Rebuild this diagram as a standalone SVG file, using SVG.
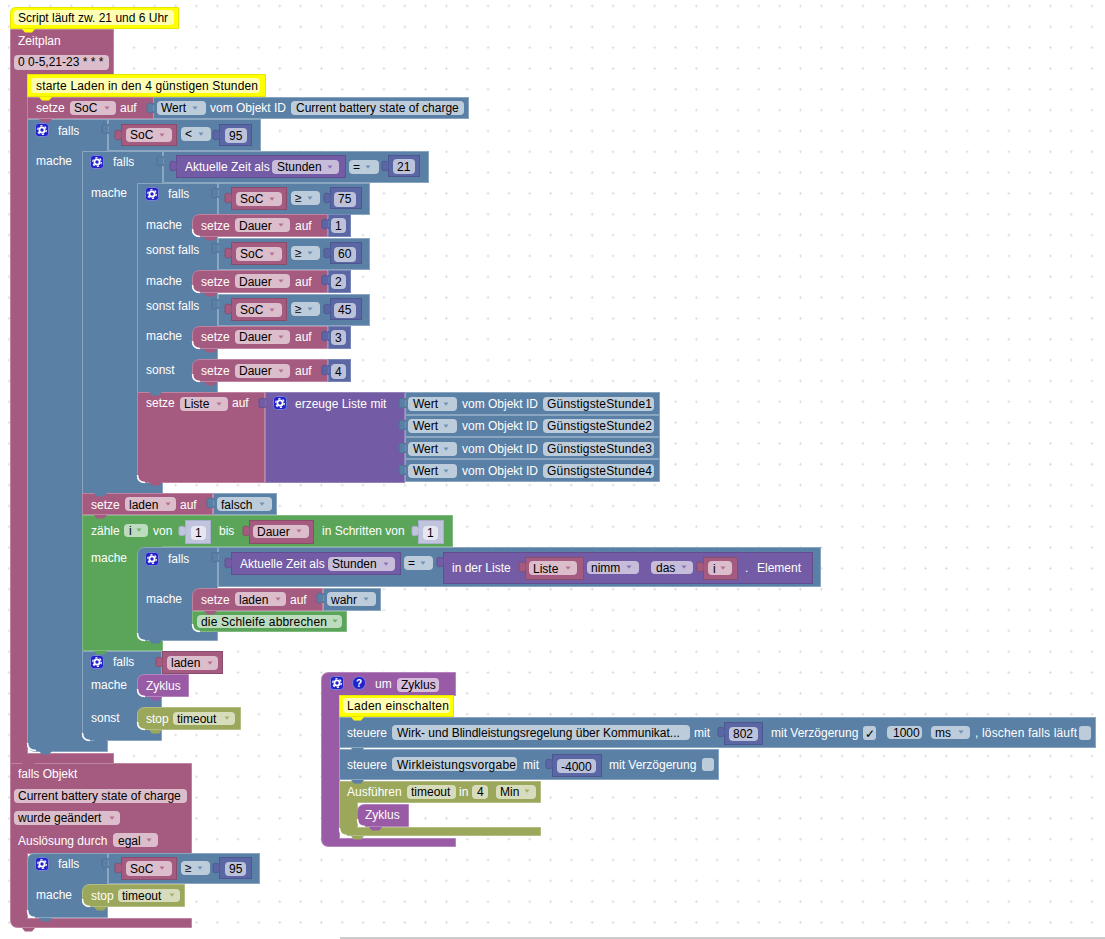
<svg xmlns="http://www.w3.org/2000/svg" width="1105" height="939" viewBox="0 0 1105 939">
<style>
text{font-family:"Liberation Sans",Arial,sans-serif;font-size:12px}
.w{fill:#fff}.k{fill:#000}
.mr{fill:#a55b80;stroke:#bd83a0}.bl{fill:#5b80a5;stroke:#8aa6c1}.pu{fill:#745ba5;stroke:#9483b8}
.nu{fill:#5b67a5;stroke:#4c5792}.nl{fill:#5b67a5;stroke:#7a85b8}.gr{fill:#5ba55b;stroke:#7fb97f}.ol{fill:#9ba75b;stroke:#b3bc82}.pr{fill:#995ba5;stroke:#b583bd}
.mi{fill:#a55b80;stroke:#8a4c6b}.pi{fill:#745ba5;stroke:#624e8e}.li{fill:#c0c4dd;stroke:#a9aecd}
.ye{fill:#ff0;stroke:#e6e600}
.f{fill:#fff;fill-opacity:.6}.fc{fill:#ffffb3}.fn{fill:#fff;fill-opacity:.6}
.am{fill:#b5708f}.ab{fill:#6f92b3}.ap{fill:#8a72b5}.ag{fill:#6db36d}.ao{fill:#a5b06a}
.tm{fill:#a55b80;stroke:#8a4c6b}.tb{fill:#5b80a5;stroke:#4d7096}.tn{fill:#5b67a5;stroke:#4c5792}.tp{fill:#745ba5;stroke:#624e8e}.tl{fill:#c0c4dd;stroke:#a9aecd}
.nm{fill:#a55b80}.nb{fill:#5b80a5}.ng{fill:#5ba55b}.no{fill:#9ba75b}.np{fill:#995ba5}.ny{fill:#ff0}
.hl{fill:none;stroke:#fff;stroke-width:1.5}
</style>
<defs>
<pattern id="dots" x="7.500" y="4.500" width="20.83" height="20.83" patternUnits="userSpaceOnUse">
<path d="M0 1.500H3M1.500 0V3" stroke="#e0e0e0" stroke-width="1" fill="none"/>
</pattern>
<polygon id="dd" points="-2.500,-1.500 2.500,-1.500 0,1.800"/>
<path id="tab" d="M.5 0V1.500C-2 0-6-.5-6 2V8C-6 10.500-2 10 .5 8.500V10"/>
<path id="nt" d="M0 0L3 3.500H10L13 0Z"/>
<g id="gear">
<rect x=".5" y=".5" width="13" height="13" rx="3" fill="#2222cc" stroke="#7a80d8"/>
<circle cx="7" cy="7" r="2.600" fill="none" stroke="#fff" stroke-width="1.800"/>
<circle cx="7" cy="7" r="4.300" fill="none" stroke="#fff" stroke-width="1.300" stroke-dasharray="2.200 2.300"/>
</g>
</defs>

<g id="workspace">
<rect width="1105" height="939" fill="#fff"/>
<rect width="1105" height="939" fill="url(#dots)"/>
<rect x="340" y="937" width="765" height="2" fill="#ccc"/>
</g>

<g id="schedule">
<path class="mr" d="M10.500 29.500H113.500V74.500H27.500V753.500H113.500V763.500H10.500Z"/>
<text class="w" x="18" y="45">Zeitplan</text>
<rect class="f" x="14" y="55" width="95" height="15" rx="4"/>
<text class="k" x="18" y="66">0 0-5,21-23 * * *</text>
</g>

<g id="comment-script">
<path class="ye" d="M16 7.500H178.500V28.500H10.500V13Q10.500 7.500 16 7.500Z"/>
<rect class="fc" x="14" y="10" width="160" height="15" rx="4"/>
<text class="k" x="18" y="22">Script läuft zw. 21 und 6 Uhr</text>
</g>

<g id="comment-charge">
<rect class="ye" x="27.500" y="74.500" width="238" height="22"/>
<rect class="fc" x="31" y="78" width="229" height="15" rx="4"/>
<text class="k" x="36" y="90" textLength="222">starte Laden in den 4 günstigen Stunden</text>
</g>

<g id="set-soc">
<rect class="mr" x="27.500" y="97.500" width="126" height="21"/>
<text class="w" x="36" y="112">setze</text>
<rect class="f" x="70" y="101" width="46" height="14" rx="4"/>
<text class="k" x="74" y="112">SoC</text><use href="#dd" x="107" y="108" class="am"/>
<text class="w" x="120" y="112">auf</text>
</g>
<g id="value-soc">
<rect class="bl" x="153.500" y="97.500" width="315" height="21"/>
<rect class="f" x="157" y="101" width="49" height="14" rx="4"/>
<text class="k" x="161" y="112">Wert</text><use href="#dd" x="195" y="108" class="ab"/>
<text class="w" x="210" y="112">vom Objekt ID</text>
<rect class="f" x="291" y="101" width="173" height="14" rx="4"/>
<text class="k" x="296" y="112">Current battery state of charge</text>
</g>

<g id="if-soc-95">
<path class="bl" d="M27.500 119.500H107.500V751.500H36Q27.500 751.500 27.500 743Z"/>
<use href="#gear" x="35" y="123"/>
<text class="w" x="58" y="135">falls</text>
<text class="w" x="36" y="165">mache</text>
<path class="hl" d="M27.500 743Q27.500 750.500 36 750.500"/>
</g>
<g id="cmp-soc-95">
<rect class="bl" x="108.500" y="119.500" width="152" height="31"/>
<rect class="mi" x="121.500" y="124.500" width="55" height="21"/>
<rect class="f" x="126" y="128" width="46" height="14" rx="4"/>
<text class="k" x="130" y="139">SoC</text><use href="#dd" x="162" y="135" class="am"/>
<rect class="f" x="181" y="127" width="30" height="14" rx="4"/>
<text class="k" x="185" y="138">&lt;</text><use href="#dd" x="201" y="134" class="ab"/>
<rect class="nu" x="219.500" y="124.500" width="32" height="21"/>
<rect class="f" x="225" y="128" width="22" height="15" rx="4"/>
<text class="k" x="229" y="140">95</text>
</g>

<g id="if-hour-21">
<path class="bl" d="M82.500 151.500H162.500V493.500H82.500Z"/>
<use href="#gear" x="90" y="155"/>
<text class="w" x="113" y="166">falls</text>
<text class="w" x="91" y="197">mache</text>
</g>
<g id="cmp-hour-21">
<rect class="bl" x="163.500" y="151.500" width="265" height="31"/>
<rect class="pi" x="176.500" y="155.500" width="169" height="22"/>
<text class="w" x="185" y="171">Aktuelle Zeit als</text>
<rect class="f" x="272" y="160" width="67" height="14" rx="4"/>
<text class="k" x="277" y="171">Stunden</text><use href="#dd" x="330" y="167" class="ap"/>
<rect class="f" x="349" y="160" width="30" height="14" rx="4"/>
<text class="k" x="353" y="171">=</text><use href="#dd" x="368" y="167" class="ab"/>
<rect class="nu" x="388.500" y="155.500" width="31" height="21"/>
<rect class="f" x="393" y="159" width="22" height="15" rx="4"/>
<text class="k" x="397" y="171">21</text>
</g>

<g id="if-soc-steps">
<path class="bl" d="M137.500 183.500H217.500V392.500H137.500Z"/>
<use href="#gear" x="145" y="187"/>
<text class="w" x="168" y="198">falls</text>
<text class="w" x="146" y="229">mache</text>
<text class="w" x="146" y="254">sonst falls</text>
<text class="w" x="146" y="285">mache</text>
<text class="w" x="146" y="310">sonst falls</text>
<text class="w" x="146" y="340">mache</text>
<text class="w" x="146" y="374">sonst</text>
</g>
<g id="cmp-soc-75">
<rect class="bl" x="218.500" y="183.500" width="151" height="31"/>
<rect class="mi" x="231.500" y="187.500" width="55" height="22"/>
<rect class="f" x="236" y="192" width="46" height="14" rx="4"/>
<text class="k" x="240" y="203">SoC</text><use href="#dd" x="272" y="199" class="am"/>
<rect class="f" x="291" y="191" width="29" height="14" rx="4"/>
<text class="k" x="295" y="202">≥</text><use href="#dd" x="310" y="198" class="ab"/>
<rect class="nu" x="330.500" y="187.500" width="31" height="21"/>
<rect class="f" x="334" y="192" width="22" height="15" rx="4"/>
<text class="k" x="338" y="203">75</text>
</g>
<g id="cmp-soc-60">
<rect class="bl" x="218.500" y="238.500" width="151" height="31"/>
<rect class="mi" x="231.500" y="242.500" width="55" height="22"/>
<rect class="f" x="236" y="247" width="46" height="14" rx="4"/>
<text class="k" x="240" y="258">SoC</text><use href="#dd" x="272" y="254" class="am"/>
<rect class="f" x="291" y="246" width="29" height="14" rx="4"/>
<text class="k" x="295" y="257">≥</text><use href="#dd" x="310" y="253" class="ab"/>
<rect class="nu" x="330.500" y="242.500" width="31" height="21"/>
<rect class="f" x="334" y="247" width="22" height="15" rx="4"/>
<text class="k" x="338" y="258">60</text>
</g>
<g id="cmp-soc-45">
<rect class="bl" x="218.500" y="294.500" width="151" height="31"/>
<rect class="mi" x="231.500" y="298.500" width="55" height="22"/>
<rect class="f" x="236" y="303" width="46" height="14" rx="4"/>
<text class="k" x="240" y="314">SoC</text><use href="#dd" x="272" y="310" class="am"/>
<rect class="f" x="291" y="302" width="29" height="14" rx="4"/>
<text class="k" x="295" y="313">≥</text><use href="#dd" x="310" y="309" class="ab"/>
<rect class="nu" x="330.500" y="298.500" width="31" height="21"/>
<rect class="f" x="334" y="303" width="22" height="15" rx="4"/>
<text class="k" x="338" y="314">45</text>
</g>

<g id="set-dauer-1">
<path class="mr" d="M200 214.500H327.500V236.500H200Q192.500 236.500 192.500 229V222Q192.500 214.500 200 214.500Z"/>
<path class="hl" d="M192.500 229Q192.500 236.500 200 236.500"/>
<text class="w" x="201" y="230">setze</text>
<rect class="f" x="235" y="218" width="55" height="14" rx="4"/>
<text class="k" x="239" y="230">Dauer</text><use href="#dd" x="281" y="225" class="am"/>
<text class="w" x="295" y="230">auf</text>
<rect class="nl" x="328.500" y="214.500" width="22" height="22"/>
<rect class="f" x="331" y="218" width="15" height="15" rx="4"/>
<text class="k" x="335" y="230">1</text>
</g>
<g id="set-dauer-2">
<path class="mr" d="M200 270.500H327.500V292.500H200Q192.500 292.500 192.500 285V278Q192.500 270.500 200 270.500Z"/>
<path class="hl" d="M192.500 285Q192.500 292.500 200 292.500"/>
<text class="w" x="201" y="286">setze</text>
<rect class="f" x="235" y="274" width="55" height="14" rx="4"/>
<text class="k" x="239" y="286">Dauer</text><use href="#dd" x="281" y="281" class="am"/>
<text class="w" x="295" y="286">auf</text>
<rect class="nl" x="328.500" y="270.500" width="22" height="22"/>
<rect class="f" x="331" y="274" width="15" height="15" rx="4"/>
<text class="k" x="335" y="286">2</text>
</g>
<g id="set-dauer-3">
<path class="mr" d="M200 326.500H327.500V348.500H200Q192.500 348.500 192.500 341V334Q192.500 326.500 200 326.500Z"/>
<path class="hl" d="M192.500 341Q192.500 348.500 200 348.500"/>
<text class="w" x="201" y="341">setze</text>
<rect class="f" x="235" y="330" width="55" height="14" rx="4"/>
<text class="k" x="239" y="341">Dauer</text><use href="#dd" x="281" y="337" class="am"/>
<text class="w" x="295" y="341">auf</text>
<rect class="nl" x="328.500" y="326.500" width="22" height="22"/>
<rect class="f" x="331" y="330" width="15" height="15" rx="4"/>
<text class="k" x="335" y="342">3</text>
</g>
<g id="set-dauer-4">
<path class="mr" d="M200 359.500H327.500V381.500H200Q192.500 381.500 192.500 374V367Q192.500 359.500 200 359.500Z"/>
<path class="hl" d="M192.500 374Q192.500 381.500 200 381.500"/>
<text class="w" x="201" y="375">setze</text>
<rect class="f" x="235" y="364" width="55" height="14" rx="4"/>
<text class="k" x="239" y="375">Dauer</text><use href="#dd" x="281" y="371" class="am"/>
<text class="w" x="295" y="375">auf</text>
<rect class="nl" x="328.500" y="359.500" width="22" height="22"/>
<rect class="f" x="331" y="364" width="15" height="15" rx="4"/>
<text class="k" x="335" y="376">4</text>
</g>

<g id="set-liste">
<path class="mr" d="M137.500 392.500H264.500V482.500H145Q137.500 482.500 137.500 475Z"/>
<path class="hl" d="M137.500 475Q137.500 482.500 145 482.500"/>
<text class="w" x="146" y="407">setze</text>
<rect class="f" x="180" y="397" width="48" height="14" rx="4"/>
<text class="k" x="184" y="408">Liste</text><use href="#dd" x="219" y="404" class="am"/>
<text class="w" x="232" y="407">auf</text>
</g>
<g id="list-create">
<rect class="pu" x="265.500" y="392.500" width="139" height="90"/>
<use href="#gear" x="273" y="396"/>
<text class="w" x="295" y="408">erzeuge Liste mit</text>
</g>
<g id="value-hour-1">
<rect class="bl" x="405.500" y="392.500" width="254" height="22"/>
<rect class="f" x="408" y="397" width="49" height="14" rx="4"/>
<text class="k" x="413" y="408">Wert</text><use href="#dd" x="446" y="404" class="ab"/>
<text class="w" x="462" y="408">vom Objekt ID</text>
<rect class="f" x="543" y="397" width="111" height="14" rx="4"/>
<text class="k" x="547" y="408" textLength="105">GünstigsteStunde1</text>
</g>
<g id="value-hour-2">
<rect class="bl" x="405.500" y="415.500" width="254" height="21"/>
<rect class="f" x="408" y="419" width="49" height="14" rx="4"/>
<text class="k" x="413" y="430">Wert</text><use href="#dd" x="446" y="426" class="ab"/>
<text class="w" x="462" y="430">vom Objekt ID</text>
<rect class="f" x="543" y="419" width="111" height="14" rx="4"/>
<text class="k" x="547" y="430" textLength="105">GünstigsteStunde2</text>
</g>
<g id="value-hour-3">
<rect class="bl" x="405.500" y="437.500" width="254" height="21"/>
<rect class="f" x="408" y="442" width="49" height="14" rx="4"/>
<text class="k" x="413" y="453">Wert</text><use href="#dd" x="446" y="449" class="ab"/>
<text class="w" x="462" y="453">vom Objekt ID</text>
<rect class="f" x="543" y="442" width="111" height="14" rx="4"/>
<text class="k" x="547" y="453" textLength="105">GünstigsteStunde3</text>
</g>
<g id="value-hour-4">
<rect class="bl" x="405.500" y="459.500" width="254" height="22"/>
<rect class="f" x="408" y="464" width="49" height="14" rx="4"/>
<text class="k" x="413" y="475">Wert</text><use href="#dd" x="446" y="471" class="ab"/>
<text class="w" x="462" y="475">vom Objekt ID</text>
<rect class="f" x="543" y="464" width="111" height="14" rx="4"/>
<text class="k" x="547" y="475" textLength="105">GünstigsteStunde4</text>
</g>

<g id="set-laden-false">
<rect class="mr" x="82.500" y="493.500" width="130" height="21"/>
<text class="w" x="91" y="509">setze</text>
<rect class="f" x="125" y="497" width="51" height="14" rx="4"/>
<text class="k" x="129" y="509">laden</text><use href="#dd" x="168" y="504" class="am"/>
<text class="w" x="180" y="509">auf</text>
<rect class="bl" x="213.500" y="493.500" width="63" height="21"/>
<rect class="f" x="217" y="497" width="55" height="14" rx="4"/>
<text class="k" x="221" y="509">falsch</text><use href="#dd" x="262" y="504" class="ab"/>
</g>

<g id="count-loop">
<path class="gr" d="M82.500 515.500H452.500V546.500H162.500V650.500H82.500Z"/>
<text class="w" x="91" y="535">zähle</text>
<rect class="f" x="124" y="524" width="24" height="13" rx="4"/>
<text class="k" x="129" y="535">i</text><use href="#dd" x="139" y="530" class="ag"/>
<text class="w" x="153" y="535">von</text>
<rect class="li" x="185.500" y="520.500" width="25" height="23"/>
<rect class="fn" x="191" y="526" width="15" height="14" rx="4"/>
<text class="k" x="195" y="537">1</text>
<text class="w" x="219" y="535">bis</text>
<rect class="mi" x="249.500" y="520.500" width="64" height="23"/>
<rect class="f" x="253" y="525" width="56" height="13" rx="4"/>
<text class="k" x="257" y="536">Dauer</text><use href="#dd" x="299" y="531" class="am"/>
<text class="w" x="322" y="535">in Schritten von</text>
<rect class="li" x="418.500" y="520.500" width="25" height="23"/>
<rect class="fn" x="423" y="526" width="15" height="14" rx="4"/>
<text class="k" x="427" y="537">1</text>
<text class="w" x="91" y="562">mache</text>
</g>

<g id="if-hour-list">
<path class="bl" d="M145 547.500H217.500V640.500H145Q137.500 640.500 137.500 633V555Q137.500 547.500 145 547.500Z"/>
<path class="hl" d="M137.500 633Q137.500 640.500 145 640.500"/>
<use href="#gear" x="145" y="552"/>
<text class="w" x="168" y="563">falls</text>
<text class="w" x="146" y="603">mache</text>
</g>
<g id="cmp-hour-list">
<rect class="bl" x="218.500" y="547.500" width="602" height="39"/>
<rect class="pi" x="231.500" y="552.500" width="169" height="22"/>
<text class="w" x="240" y="568">Aktuelle Zeit als</text>
<rect class="f" x="328" y="557" width="67" height="14" rx="4"/>
<text class="k" x="332" y="568">Stunden</text><use href="#dd" x="386" y="564" class="ap"/>
<rect class="f" x="404" y="556" width="29" height="14" rx="4"/>
<text class="k" x="408" y="567">=</text><use href="#dd" x="423" y="563" class="ab"/>
</g>
<g id="list-get">
<rect class="pi" x="443.500" y="552.500" width="369" height="31"/>
<text class="w" x="452" y="572">in der Liste</text>
<rect class="mi" x="525.500" y="557.500" width="58" height="22"/>
<rect class="f" x="529" y="561" width="48" height="14" rx="4"/>
<text class="k" x="533" y="573">Liste</text><use href="#dd" x="568" y="568" class="am"/>
<rect class="f" x="587" y="561" width="52" height="13" rx="4"/>
<text class="k" x="591" y="572">nimm</text><use href="#dd" x="629" y="567" class="ap"/>
<rect class="f" x="651" y="561" width="42" height="13" rx="4"/>
<text class="k" x="656" y="572">das</text><use href="#dd" x="684" y="567" class="ap"/>
<rect class="mi" x="703.500" y="557.500" width="34" height="22"/>
<rect class="f" x="708" y="561" width="24" height="14" rx="4"/>
<text class="k" x="713" y="573">i</text><use href="#dd" x="723" y="568" class="am"/>
<text class="w" x="745" y="572">.</text>
<text class="w" x="757" y="572">Element</text>
</g>

<g id="set-laden-true">
<path class="mr" d="M200 588.500H322.500V610.500H192.500V596Q192.500 588.500 200 588.500Z"/>
<text class="w" x="201" y="604">setze</text>
<rect class="f" x="235" y="592" width="51" height="14" rx="4"/>
<text class="k" x="239" y="604">laden</text><use href="#dd" x="278" y="599" class="am"/>
<text class="w" x="290" y="604">auf</text>
<rect class="bl" x="323.500" y="588.500" width="57" height="22"/>
<rect class="f" x="327" y="592" width="49" height="14" rx="4"/>
<text class="k" x="331" y="604">wahr</text><use href="#dd" x="366" y="599" class="ab"/>
</g>
<g id="loop-break">
<path class="gr" d="M192.500 611.500H346.500V631.500H200Q192.500 631.500 192.500 624Z"/>
<path class="hl" d="M192.500 624Q192.500 631.500 200 631.500"/>
<rect class="f" x="197" y="615" width="145" height="13" rx="4"/>
<text class="k" x="201" y="626" textLength="126">die Schleife abbrechen</text><use href="#dd" x="335" y="621" class="ag"/>
</g>

<g id="if-laden">
<path class="bl" d="M82.500 651.500H161.500V740.500H90Q82.500 740.500 82.500 733Z"/>
<path class="hl" d="M82.500 733Q82.500 740.500 90 740.500"/>
<use href="#gear" x="90" y="655"/>
<text class="w" x="113" y="666">falls</text>
<text class="w" x="91" y="689">mache</text>
<text class="w" x="91" y="722">sonst</text>
</g>
<g id="var-laden">
<rect class="mi" x="162.500" y="651.500" width="60" height="22"/>
<rect class="f" x="167" y="656" width="51" height="14" rx="4"/>
<text class="k" x="171" y="667">laden</text><use href="#dd" x="210" y="663" class="am"/>
</g>
<g id="call-zyklus">
<path class="pr" d="M145 674.500H188.500V696.500H145Q137.500 696.500 137.500 689V682Q137.500 674.500 145 674.500Z"/>
<path class="hl" d="M137.500 689Q137.500 696.500 145 696.500"/>
<text class="w" x="146" y="690">Zyklus</text>
</g>
<g id="stop-timeout-1">
<path class="ol" d="M145 707.500H240.500V729.500H145Q137.500 729.500 137.500 722V715Q137.500 707.500 145 707.500Z"/>
<path class="hl" d="M137.500 722Q137.500 729.500 145 729.500"/>
<text class="w" x="146" y="723">stop</text>
<rect class="f" x="173" y="712" width="62" height="13" rx="4"/>
<text class="k" x="177" y="723">timeout</text><use href="#dd" x="227" y="718" class="ao"/>
</g>

<g id="on-object">
<path class="mr" d="M10.500 763.500H191.500V853.500H27.500V918.500H191.500V927.500H18Q10.500 927.500 10.500 920Z"/>
<text class="w" x="18" y="778">falls Objekt</text>
<rect class="f" x="14" y="789" width="173" height="14" rx="4"/>
<text class="k" x="18" y="800">Current battery state of charge</text>
<rect class="f" x="14" y="811" width="106" height="14" rx="4"/>
<text class="k" x="18" y="822">wurde geändert</text><use href="#dd" x="112" y="818" class="am"/>
<text class="w" x="18" y="845">Auslösung durch</text>
<rect class="f" x="113" y="833" width="45" height="14" rx="4"/>
<text class="k" x="118" y="845">egal</text><use href="#dd" x="149" y="840" class="am"/>
</g>
<g id="if-soc-full">
<path class="bl" d="M35 853.500H107.500V917.500H35Q27.500 917.500 27.500 910V861Q27.500 853.500 35 853.500Z"/>
<path class="hl" d="M27.500 910Q27.500 917.500 35 917.500"/>
<use href="#gear" x="35" y="857"/>
<text class="w" x="58" y="868">falls</text>
<text class="w" x="36" y="899">mache</text>
</g>
<g id="cmp-soc-full">
<rect class="bl" x="108.500" y="853.500" width="151" height="30"/>
<rect class="mi" x="121.500" y="857.500" width="55" height="22"/>
<rect class="f" x="126" y="861" width="46" height="15" rx="4"/>
<text class="k" x="130" y="873">SoC</text><use href="#dd" x="162" y="868" class="am"/>
<rect class="f" x="181" y="861" width="29" height="14" rx="4"/>
<text class="k" x="185" y="872">≥</text><use href="#dd" x="200" y="868" class="ab"/>
<rect class="nu" x="219.500" y="857.500" width="32" height="21"/>
<rect class="f" x="225" y="862" width="21" height="14" rx="4"/>
<text class="k" x="229" y="873">95</text>
</g>
<g id="stop-timeout-2">
<path class="ol" d="M90 884.500H184.500V906.500H90Q82.500 906.500 82.500 899V892Q82.500 884.500 90 884.500Z"/>
<path class="hl" d="M82.500 899Q82.500 906.500 90 906.500"/>
<text class="w" x="91" y="900">stop</text>
<rect class="f" x="118" y="889" width="62" height="13" rx="4"/>
<text class="k" x="122" y="900">timeout</text><use href="#dd" x="172" y="895" class="ao"/>
</g>

<g id="proc-zyklus">
<path class="pr" d="M329 672.500H455.500V695.500H339.500V838.500H455.500V846.500H329Q321.500 846.500 321.500 839V680Q321.500 672.500 329 672.500Z"/>
<use href="#gear" x="330" y="676"/>
<circle cx="359" cy="683" r="6.500" fill="#2222cc" stroke="#7a80d8"/>
<text x="356" y="687" style="font-weight:700;font-size:10px" class="w">?</text>
<text class="w" x="375" y="688">um</text>
<rect class="f" x="397" y="678" width="42" height="14" rx="4"/>
<text class="k" x="401" y="689">Zyklus</text>
</g>
<g id="comment-enable">
<rect class="ye" x="339.500" y="695.500" width="114" height="21"/>
<rect class="fc" x="343" y="698" width="107" height="15" rx="4"/>
<text class="k" x="347" y="710" textLength="102">Laden einschalten</text>
</g>
<g id="control-reactive">
<rect class="bl" x="339.500" y="717.500" width="756" height="30"/>
<text class="w" x="347" y="737">steuere</text>
<rect class="f" x="392" y="725" width="298" height="15" rx="4"/>
<text class="k" x="397" y="737">Wirk- und Blindleistungsregelung über Kommunikat...</text>
<text class="w" x="694" y="737">mit</text>
<rect class="nu" x="724.500" y="722.500" width="38" height="22"/>
<rect class="f" x="729" y="727" width="29" height="14" rx="4"/>
<text class="k" x="733" y="738">802</text>
<text class="w" x="771" y="737">mit Verzögerung</text>
<rect class="f" x="863" y="726" width="13" height="14" rx="3"/>
<text class="k" x="865" y="738">✓</text>
<rect class="f" x="887" y="726" width="35" height="13" rx="4"/>
<text class="k" x="893" y="737">1000</text>
<rect class="f" x="931" y="726" width="39" height="13" rx="4"/>
<text class="k" x="935" y="737">ms</text><use href="#dd" x="961" y="732" class="ab"/>
<text class="w" x="975" y="737" textLength="102">, löschen falls läuft</text>
<rect class="f" x="1079" y="726" width="12" height="14" rx="3"/>
</g>
<g id="control-active">
<rect class="bl" x="339.500" y="749.500" width="379" height="30"/>
<text class="w" x="347" y="769">steuere</text>
<rect class="f" x="392" y="757" width="125" height="14" rx="4"/>
<text class="k" x="397" y="769" textLength="119">Wirkleistungsvorgabe</text>
<text class="w" x="523" y="769">mit</text>
<rect class="nu" x="552.500" y="754.500" width="49" height="22"/>
<rect class="f" x="557" y="759" width="39" height="14" rx="4"/>
<text class="k" x="561" y="771">-4000</text>
<text class="w" x="609" y="769">mit Verzögerung</text>
<rect class="f" x="702" y="758" width="12" height="13" rx="3"/>
</g>
<g id="timeout-run">
<path class="ol" d="M339.500 781.500H540.500V802.500H357.500V827.500H540.500V835.500H347Q339.500 835.500 339.500 828Z"/>
<path class="hl" d="M339.500 828Q339.500 835.500 347 835.500"/>
<text class="w" x="347" y="796">Ausführen</text>
<rect class="f" x="407" y="785" width="49" height="14" rx="4"/>
<text class="k" x="411" y="796">timeout</text>
<text class="w" x="459" y="796">in</text>
<rect class="f" x="472" y="785" width="16" height="14" rx="4"/>
<text class="k" x="477" y="796">4</text>
<rect class="f" x="496" y="785" width="40" height="14" rx="4"/>
<text class="k" x="500" y="796">Min</text><use href="#dd" x="527" y="791" class="ao"/>
</g>
<g id="call-zyklus-timer">
<path class="pr" d="M365 804.500H408.500V826.500H365Q357.500 826.500 357.500 819V812Q357.500 804.500 365 804.500Z"/>
<path class="hl" d="M357.500 819Q357.500 826.500 365 826.500"/>
<text class="w" x="365" y="819">Zyklus</text>
</g>

<g id="connectors">
<use href="#tab" x="153" y="103" class="tb"/>
<use href="#tab" x="108" y="124" class="tb"/>
<use href="#tab" x="121" y="130" class="tm"/>
<use href="#tab" x="219" y="130" class="tn"/>
<use href="#tab" x="163" y="156" class="tb"/>
<use href="#tab" x="176" y="161" class="tp"/>
<use href="#tab" x="388" y="161" class="tn"/>
<use href="#tab" x="218" y="188" class="tb"/>
<use href="#tab" x="231" y="193" class="tm"/>
<use href="#tab" x="330" y="193" class="tn"/>
<use href="#tab" x="218" y="243" class="tb"/>
<use href="#tab" x="231" y="248" class="tm"/>
<use href="#tab" x="330" y="248" class="tn"/>
<use href="#tab" x="218" y="299" class="tb"/>
<use href="#tab" x="231" y="304" class="tm"/>
<use href="#tab" x="330" y="304" class="tn"/>
<use href="#tab" x="328" y="219" class="tn"/>
<use href="#tab" x="328" y="275" class="tn"/>
<use href="#tab" x="328" y="331" class="tn"/>
<use href="#tab" x="328" y="365" class="tn"/>
<use href="#tab" x="265" y="398" class="tp"/>
<use href="#tab" x="405" y="398" class="tb"/>
<use href="#tab" x="405" y="420" class="tb"/>
<use href="#tab" x="405" y="443" class="tb"/>
<use href="#tab" x="405" y="465" class="tb"/>
<use href="#tab" x="213" y="498" class="tb"/>
<use href="#tab" x="185" y="526" class="tl"/>
<use href="#tab" x="249" y="526" class="tm"/>
<use href="#tab" x="418" y="526" class="tl"/>
<use href="#tab" x="218" y="552" class="tb"/>
<use href="#tab" x="231" y="558" class="tp"/>
<use href="#tab" x="443" y="557" class="tp"/>
<use href="#tab" x="525" y="562" class="tm"/>
<use href="#tab" x="703" y="562" class="tm"/>
<use href="#tab" x="323" y="593" class="tb"/>
<use href="#tab" x="162" y="657" class="tm"/>
<use href="#tab" x="108" y="858" class="tb"/>
<use href="#tab" x="121" y="863" class="tm"/>
<use href="#tab" x="219" y="863" class="tn"/>
<use href="#tab" x="724" y="727" class="tn"/>
<use href="#tab" x="552" y="759" class="tn"/>

<use href="#nt" x="22" y="29" class="ny"/>
<use href="#nt" x="39" y="97" class="ny"/>
<use href="#nt" x="39" y="119" class="nm"/>
<use href="#nt" x="39" y="751" class="nb"/>
<use href="#nt" x="22" y="763" class="nm"/>
<use href="#nt" x="94" y="493" class="nb"/>
<use href="#nt" x="94" y="515" class="nm"/>
<use href="#nt" x="94" y="651" class="ng"/>
<use href="#nt" x="94" y="740" class="nb"/>
<use href="#nt" x="149" y="392" class="nb"/>
<use href="#nt" x="149" y="482" class="nm"/>
<use href="#nt" x="149" y="640" class="nb"/>
<use href="#nt" x="204" y="237" class="nm"/>
<use href="#nt" x="204" y="293" class="nm"/>
<use href="#nt" x="204" y="349" class="nm"/>
<use href="#nt" x="204" y="382" class="nm"/>
<use href="#nt" x="204" y="611" class="nm"/>
<use href="#nt" x="149" y="697" class="np"/>
<use href="#nt" x="149" y="730" class="no"/>
<use href="#nt" x="94" y="907" class="no"/>
<use href="#nt" x="39" y="918" class="nb"/>
<use href="#nt" x="22" y="928" class="nm"/>
<use href="#nt" x="351" y="717" class="ny"/>
<use href="#nt" x="351" y="748" class="nb"/>
<use href="#nt" x="351" y="780" class="nb"/>
<use href="#nt" x="369" y="827" class="np"/>
<use href="#nt" x="351" y="836" class="no"/>
</g>
</svg>
